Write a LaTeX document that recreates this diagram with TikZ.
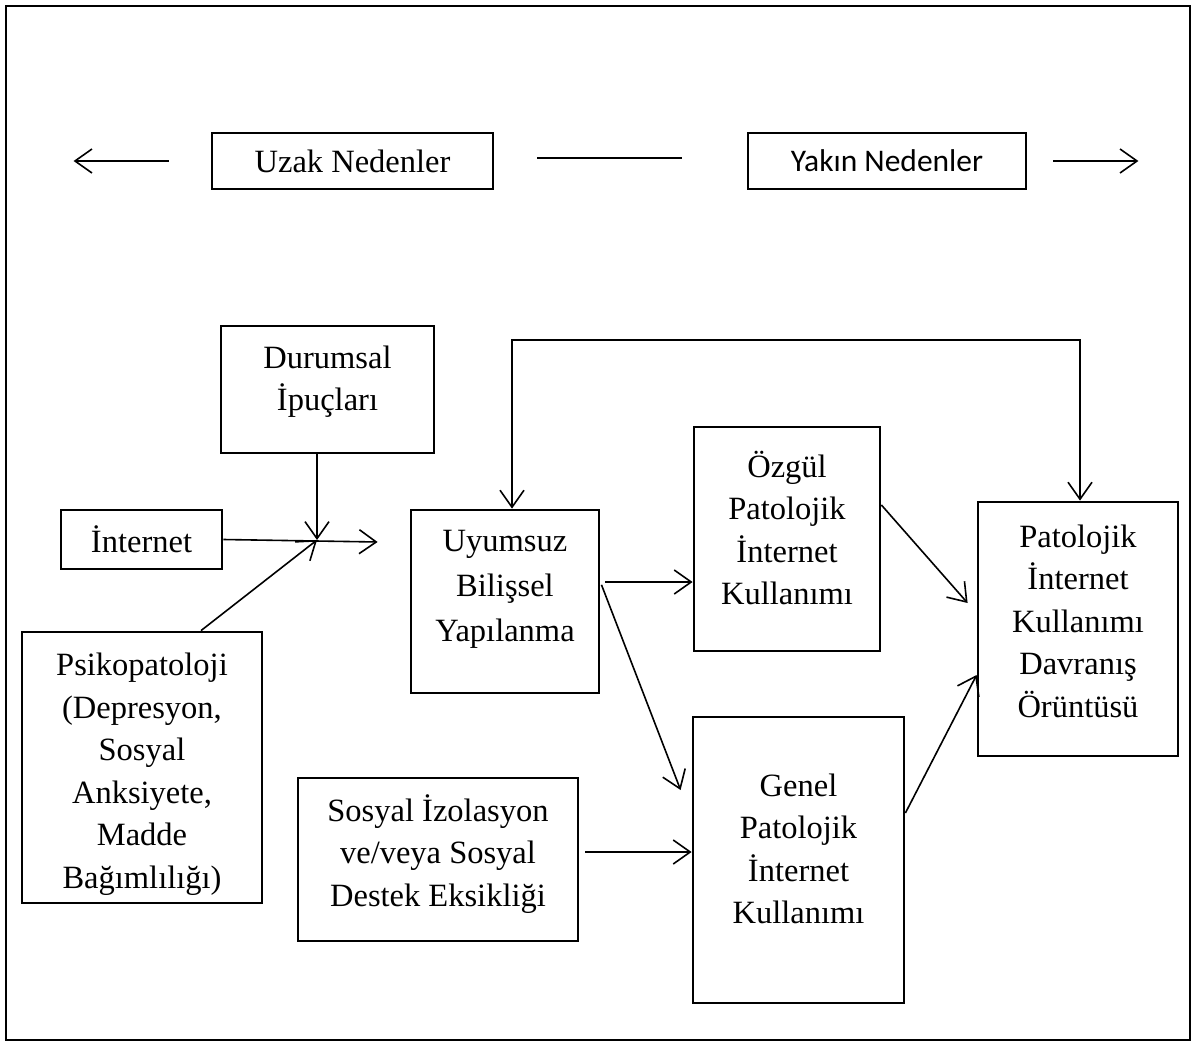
\documentclass[tikz,border=0pt]{standalone}
\usepackage{fontspec}
\setmainfont{Liberation Serif}
\newfontfamily\calibrifont{Carlito}
\usetikzlibrary{arrows.meta}
\tikzset{
  box/.style={draw, line width=2.8pt, inner sep=0pt},
  txt/.style={inner sep=0pt, align=center, font=\fontsize{32.5}{42.5}\selectfont},
  tip/.tip={Straight Barb[length=17pt,width=24pt]},
  conn/.style={line width=1.6pt, -tip},
  plain/.style={line width=1.6pt},
}
\begin{document}
\begin{tikzpicture}[x=1pt,y=-1pt]
\useasboundingbox (0,0) rectangle (1196,1043);
\draw[line width=2pt] (6,6) rectangle (1190,1040);

% top row
\node[box, txt, minimum width=281pt, minimum height=56pt] (uzak) at (352.5,161) {Uzak Nedenler};
\node[box, txt, font=\calibrifont\fontsize{31.5}{40}\selectfont, minimum width=278pt, minimum height=56pt] (yakin) at (887,161) {Yakın Nedenler};
\draw[conn] ([xshift=-42pt]uzak.west) -- ([xshift=-137pt]uzak.west);
\draw[plain] ([xshift=43pt,yshift=3pt]uzak.east) -- ([xshift=-65pt,yshift=3pt]yakin.west);
\draw[conn] ([xshift=26pt]yakin.east) -- ([xshift=111pt]yakin.east);

% boxes
\node[box, minimum width=213pt, minimum height=127pt] (dur) at (327.5,389.5) {};
\node[txt] (durT) at (327.5,381.5) {Durumsal\\İpuçları};

\node[box, txt, minimum width=161pt, minimum height=59pt] (int) at (141.5,539.5) {İnternet};

\node[box, minimum width=240pt, minimum height=271pt] (psi) at (142,767.5) {};
\node[txt] (psiT) at (142,774) {Psikopatoloji\\(Depresyon,\\Sosyal\\Anksiyete,\\Madde\\Bağımlılığı)};

\node[box, minimum width=188pt, minimum height=183pt] (uyu) at (505,601.5) {};
\node[txt, font=\fontsize{32.5}{45}\selectfont] (uyuT) at (505,589) {Uyumsuz\\Bilişsel\\Yapılanma};

\node[box, minimum width=186pt, minimum height=224pt] (ozg) at (787,539) {};
\node[txt] (ozgT) at (787,528) {Özgül\\Patolojik\\İnternet\\Kullanımı};

\node[box, minimum width=200pt, minimum height=254pt] (pat) at (1078,629) {};
\node[txt] (patT) at (1078,621) {Patolojik\\İnternet\\Kullanımı\\Davranış\\Örüntüsü};

\node[box, minimum width=211pt, minimum height=286pt] (gen) at (798.5,860) {};
\node[txt] (genT) at (798.5,849) {Genel\\Patolojik\\İnternet\\Kullanımı};

\node[box, minimum width=280pt, minimum height=163pt] (sos) at (438,859.5) {};
\node[txt] (sosT) at (438,854) {Sosyal İzolasyon\\ve/veya Sosyal\\Destek Eksikliği};

% connectors
\coordinate (J) at (317,540);
\coordinate (K) at ([shift={(-32pt,59.5pt)}]uyu.west);
\draw[conn] (dur.south -| J) -- (J);
\draw[conn] (int.east) -- (K);
\draw[conn] ([xshift=59pt]psi.north) -- (J);

\coordinate (fbL) at (512,340);
\coordinate (fbR) at (1080,340);
\draw[line width=1.6pt, tip-tip] (uyu.north -| fbL) -- (fbL) -- (fbR) -- (pat.north -| fbR);

\coordinate (uE) at ([yshift=19.5pt]uyu.east);
\draw[conn, shorten <=5pt] (uE) -- (uE -| ozg.west);
\draw[conn, shorten <=3pt] (uE) -- ([shift={(-11pt,70pt)}]gen.west);
\draw[conn] ([yshift=34pt]ozg.east) -- ([shift={(-9pt,26pt)}]pat.west);
\draw[conn] ([yshift=47pt]gen.east) -- ([yshift=-46pt]pat.west);
\coordinate (sE) at ([shift={(6pt,7.5pt)}]sos.east);
\draw[conn] (sE) -- (sE -| gen.west);
\end{tikzpicture}
\end{document}
